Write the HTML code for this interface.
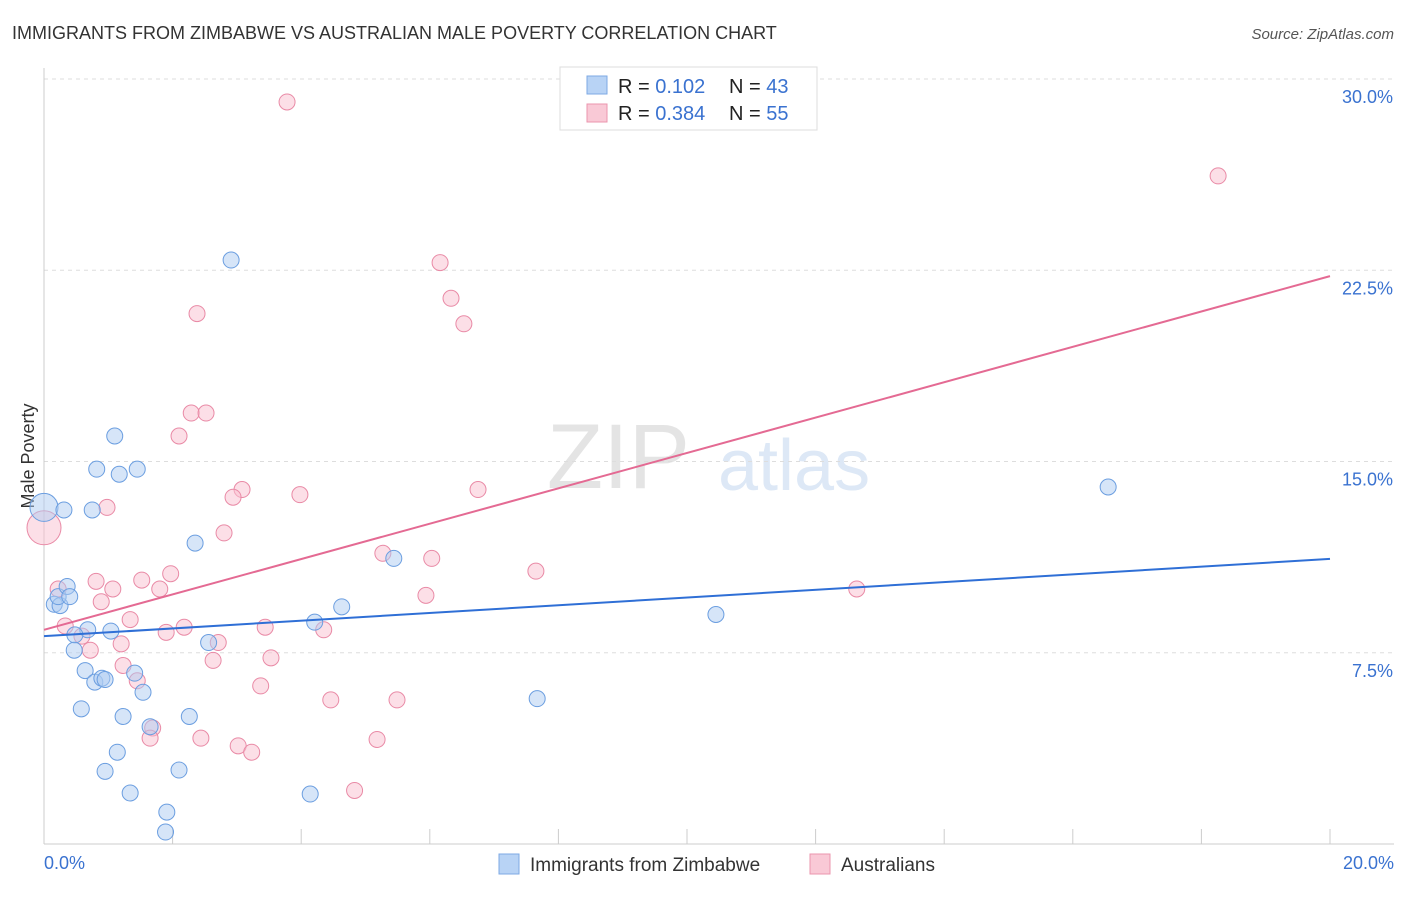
<!DOCTYPE html>
<html><head><meta charset="utf-8"><style>
body{margin:0;background:#fff;font-family:"Liberation Sans",sans-serif}
svg text{font-family:"Liberation Sans",sans-serif}
</style></head><body>
<svg id="c" width="1406" height="892">
<text x="12" y="39" font-size="18" fill="#333">IMMIGRANTS FROM ZIMBABWE VS AUSTRALIAN MALE POVERTY CORRELATION CHART</text>
<text x="1394" y="39" font-size="15" fill="#555" font-style="italic" text-anchor="end">Source: ZipAtlas.com</text>
<text x="690" y="488" font-size="92" fill="#e4e4e4" text-anchor="end" font-family="Liberation Serif">ZIP</text>
<text x="718" y="490" font-size="72" fill="#dde8f6">atlas</text>
<text x="34" y="456" font-size="18" fill="#333" text-anchor="middle" transform="rotate(-90 34 456)">Male Poverty</text>
<g id="grid"></g><g id="axes"></g><g id="pts"></g><g id="lines"></g>
<g>
<rect x="560" y="67" width="257" height="63" fill="#fff" stroke="#ddd"/>
<rect x="587" y="76" width="20" height="18" fill="#b8d3f5" stroke="#7ea9e4"/>
<rect x="587" y="104" width="20" height="18" fill="#f9c9d6" stroke="#eb95ae"/>
<text x="618" y="93" font-size="20" fill="#222">R = <tspan fill="#3a72d0">0.102</tspan></text>
<text x="729" y="93" font-size="20" fill="#222">N = <tspan fill="#3a72d0">43</tspan></text>
<text x="618" y="120" font-size="20" fill="#222">R = <tspan fill="#3a72d0">0.384</tspan></text>
<text x="729" y="120" font-size="20" fill="#222">N = <tspan fill="#3a72d0">55</tspan></text>
</g>
<g>
<rect x="499" y="854" width="20" height="20" fill="#b8d3f5" stroke="#7ea9e4"/>
<text x="530" y="871" font-size="19" fill="#333">Immigrants from Zimbabwe</text>
<rect x="810" y="854" width="20" height="20" fill="#f9c9d6" stroke="#eb95ae"/>
<text x="841" y="871" font-size="19" fill="#333">Australians</text>
</g>
</svg>
<script>
const yTicks=[7.5,15,22.5,30];
const yTickLabels=["7.5%","15.0%","22.5%","30.0%"];
const xLabels=["0.0%","20.0%"];
const blueX=[0,0.31,0.16,0.25,0.22,0.36,0.40,0.82,1.1,1.17,1.45,0.75,0.68,0.48,0.47,0.64,0.79,0.90,0.95,1.04,0.58,1.23,1.41,1.54,1.65,2.26,1.14,0.95,1.34,1.91,1.89,2.1,2.56,2.35,2.91,4.14,4.21,4.63,5.44,7.67,10.45,16.55];
const blueY=[13.2,13.1,9.4,9.35,9.7,10.1,9.7,14.7,16.0,14.5,14.7,13.1,8.4,8.2,7.6,6.8,6.35,6.5,6.45,8.35,5.3,5.0,6.7,5.95,4.6,5.0,3.6,2.85,2.0,1.25,0.47,2.9,7.9,11.8,22.9,1.96,8.7,9.3,11.2,5.7,9.0,14.0];
const pinkX=[0,3.78,18.26,6.16,6.33,6.53,2.38,2.29,2.52,2.1,3.08,2.94,3.98,6.75,0.98,2.8,5.27,6.03,7.65,1.97,1.52,0.81,1.07,1.8,0.22,12.64,5.94,0.89,1.34,0.33,2.18,1.9,3.44,4.35,0.59,0.72,1.2,2.71,2.63,3.53,1.23,1.45,3.37,4.46,5.49,1.69,1.65,2.44,3.02,3.23,5.18,4.83];
const pinkY=[12.4,29.1,26.2,22.8,21.4,20.4,20.8,16.9,16.9,16.0,13.9,13.6,13.7,13.9,13.2,12.2,11.4,11.2,10.7,10.6,10.35,10.3,10.0,10.0,10.0,10.0,9.75,9.5,8.8,8.55,8.5,8.3,8.5,8.4,8.15,7.6,7.85,7.9,7.2,7.3,7.0,6.4,6.2,5.65,5.65,4.55,4.15,4.15,3.85,3.6,4.1,2.1];
const blueTrend=[8.15,11.18];
const pinkTrend=[8.4,22.27];
const NS="http://www.w3.org/2000/svg";
const X=v=>44+v*64.3, Y=v=>844-v*25.5;
function mk(t,a,p){const e=document.createElementNS(NS,t);for(const k in a)e.setAttribute(k,a[k]);document.getElementById(p).appendChild(e);return e;}
yTicks.forEach((t,i)=>{
 const g=mk('line',{x1:44,x2:1394,y1:Y(t),y2:Y(t),stroke:'#ddd','stroke-dasharray':'4,4'},'grid');
 
 
 const l=mk('text',{x:1393,y:Y(t)+24,'font-size':18,fill:'#3a72d0','text-anchor':'end'},'axes');l.textContent=yTickLabels[i];
 
 
});
mk('line',{x1:44,x2:44,y1:68,y2:844,stroke:'#ccc'},'axes');
mk('line',{x1:44,x2:1394,y1:844,y2:844,stroke:'#ccc'},'axes');
for(let i=0;i<=10;i++){const t=mk('line',{x1:X(i*2),x2:X(i*2),y1:829,y2:844,stroke:'#ccc'},'axes');
 
 }
[[0,44,'start'],[1,1394,'end']].forEach(([i,x,a])=>{const l=mk('text',{x:x,y:869,'font-size':18,fill:'#3a72d0','text-anchor':a},'axes');l.textContent=xLabels[i];
 
 });
function pts(xs,ys,fill,stroke,name){xs.forEach((x,i)=>{const c=mk('circle',{cx:X(x),cy:Y(ys[i]),r:i==0?(name=='pink-point'?17:14):8,fill:fill,'fill-opacity':0.5,stroke:stroke,'stroke-width':1},'pts');
 
 });}
pts(pinkX,pinkY,'#f9c0d0','#e98aa6','pink-point');
pts(blueX,blueY,'#aecbf2','#6b9ee0','blue-point');
const b=mk('line',{x1:X(0),x2:X(20),y1:Y(blueTrend[0]),y2:Y(blueTrend[1]),stroke:'#2f6fd6','stroke-width':2},'lines');


const p=mk('line',{x1:X(0),x2:X(20),y1:Y(pinkTrend[0]),y2:Y(pinkTrend[1]),stroke:'#e46a93','stroke-width':2},'lines');


</script>
</body></html>
